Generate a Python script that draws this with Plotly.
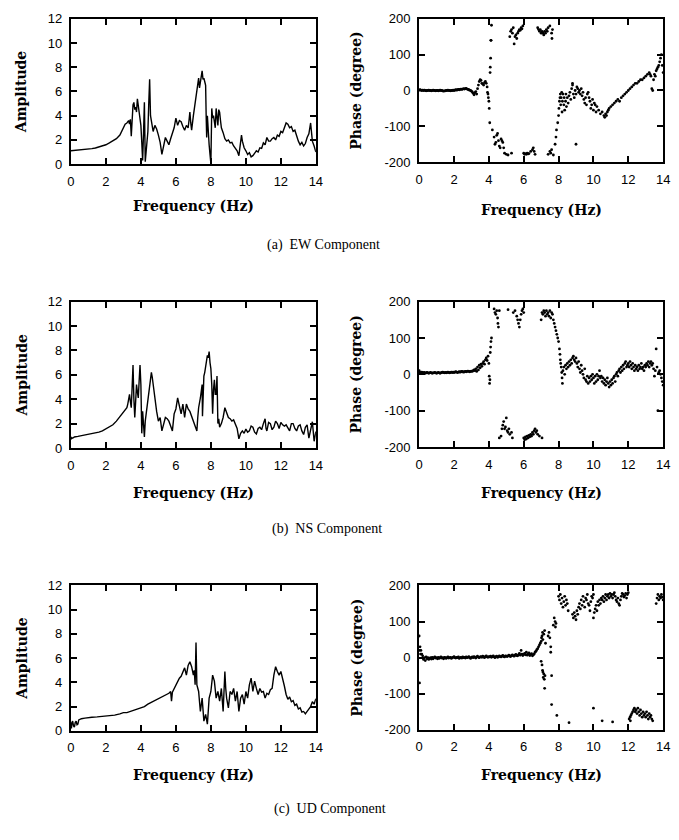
import plotly.graph_objects as go

# ---------------- DATA ----------------
freq_ticks = [0, 2, 4, 6, 8, 10, 12, 14]
amp_ticks = [0, 2, 4, 6, 8, 10, 12]
phase_ticks = [-200, -100, 0, 100, 200]

# (a) EW amplitude
ew_f = [0.0, 0.2, 0.4, 0.6, 0.8, 1.0, 1.2, 1.4, 1.6, 1.8, 2.0, 2.2, 2.4, 2.6, 2.8, 2.9, 3.0, 3.1, 3.2, 3.3,
        3.35, 3.4, 3.45, 3.5, 3.55, 3.6, 3.65, 3.7, 3.75, 3.8, 3.85, 3.9, 3.95, 4.0, 4.05, 4.1, 4.15, 4.2, 4.25, 4.3,
        4.35, 4.4, 4.45, 4.5, 4.55, 4.6, 4.65, 4.7, 4.8, 4.9, 5.0, 5.1, 5.2, 5.3, 5.4, 5.5, 5.6, 5.7, 5.8, 5.9,
        6.0, 6.05, 6.1, 6.2, 6.3, 6.4, 6.5, 6.6, 6.7, 6.75, 6.8, 6.85, 6.9, 7.0, 7.05, 7.1, 7.15, 7.2, 7.25, 7.3,
        7.35, 7.4, 7.45, 7.5, 7.55, 7.6, 7.65, 7.7, 7.73, 7.76, 7.8, 7.85, 7.9, 7.95, 8.0, 8.05, 8.1, 8.15, 8.2, 8.25,
        8.3, 8.35, 8.4, 8.45, 8.5, 8.55, 8.6, 8.7, 8.8, 8.9, 9.0, 9.1, 9.2, 9.3, 9.4, 9.5, 9.6, 9.7, 9.75, 9.8,
        9.9, 10.0, 10.1, 10.2, 10.3, 10.4, 10.5, 10.6, 10.7, 10.8, 10.9, 11.0, 11.1, 11.2, 11.3, 11.4, 11.5, 11.6, 11.7, 11.8,
        11.9, 12.0, 12.1, 12.2, 12.3, 12.4, 12.5, 12.6, 12.7, 12.8, 12.9, 13.0, 13.1, 13.2, 13.3, 13.4, 13.5, 13.6, 13.7, 13.75,
        13.8, 13.9, 14.0]
ew_amp = [1.10, 1.12, 1.15, 1.17, 1.20, 1.24, 1.28, 1.33, 1.40, 1.50, 1.60, 1.75, 1.90, 2.10, 2.40, 2.70, 2.90, 3.30, 3.40, 3.60,
          3.30, 3.70, 2.30, 4.40, 4.90, 5.10, 4.50, 4.70, 4.30, 5.40, 4.80, 4.00, 3.60, 3.20, 1.80, 0.30, 2.50, 5.10, 0.20, 1.00,
          2.00, 2.70, 5.00, 7.00, 4.00, 3.50, 2.80, 2.70, 3.20, 2.90, 2.40, 1.80, 0.80, 1.50, 2.20, 1.90, 1.60, 2.10, 2.60, 3.00,
          3.80, 3.30, 3.20, 3.60, 3.50, 3.10, 2.80, 3.20, 3.00, 3.60, 4.30, 3.40, 2.80, 4.00, 4.60, 5.10, 5.80, 6.20, 6.60, 7.10,
          6.30, 6.70, 7.20, 7.70, 7.00, 7.10, 6.80, 6.50, 4.00, 2.20, 4.00, 2.50, 1.60, 0.80, 0.05, 4.60, 3.80, 4.00, 3.50, 3.00,
          4.60, 3.80, 3.20, 4.50, 4.30, 3.60, 3.00, 2.60, 2.10, 1.90, 2.00, 1.75, 1.80, 1.50, 1.30, 1.10, 0.70, 1.60, 2.40, 1.90,
          1.35, 1.10, 0.80, 0.95, 0.60, 0.70, 0.90, 1.10, 1.00, 1.35, 1.30, 1.75, 1.60, 2.20, 1.90, 1.90, 2.10, 2.20, 2.00, 2.40,
          2.30, 2.70, 2.60, 3.00, 3.40, 3.30, 3.00, 3.10, 2.70, 2.80, 2.30, 1.90, 1.60, 1.80, 1.50, 1.70, 2.20, 2.50, 3.40, 2.40,
          1.90, 1.50, 1.00]

# (b) NS amplitude
ns_f = [0.0, 0.05, 0.1, 0.2, 0.4, 0.6, 0.8, 1.0, 1.2, 1.4, 1.6, 1.8, 2.0, 2.2, 2.4, 2.6, 2.8, 3.0, 3.1, 3.2,
        3.25, 3.3, 3.35, 3.4, 3.45, 3.5, 3.55, 3.6, 3.65, 3.7, 3.75, 3.8, 3.85, 3.9, 3.95, 4.0, 4.05, 4.1, 4.15, 4.2,
        4.25, 4.3, 4.4, 4.5, 4.55, 4.6, 4.65, 4.7, 4.8, 4.9, 5.0, 5.1, 5.2, 5.3, 5.4, 5.5, 5.6, 5.7, 5.8, 5.9,
        6.0, 6.1, 6.2, 6.3, 6.4, 6.5, 6.6, 6.7, 6.8, 6.9, 7.0, 7.1, 7.2, 7.25, 7.3, 7.4, 7.45, 7.5, 7.52, 7.55,
        7.6, 7.65, 7.7, 7.75, 7.8, 7.85, 7.9, 7.95, 8.0, 8.05, 8.1, 8.15, 8.2, 8.25, 8.3, 8.35, 8.4, 8.45, 8.5, 8.6,
        8.7, 8.8, 8.9, 9.0, 9.1, 9.2, 9.3, 9.4, 9.5, 9.6, 9.7, 9.8, 9.9, 10.0, 10.1, 10.2, 10.3, 10.4, 10.5, 10.6,
        10.7, 10.8, 10.9, 11.0, 11.1, 11.15, 11.2, 11.3, 11.4, 11.5, 11.6, 11.7, 11.8, 11.9, 12.0, 12.1, 12.2, 12.3, 12.4, 12.5,
        12.6, 12.7, 12.8, 12.9, 13.0, 13.1, 13.2, 13.3, 13.4, 13.5, 13.6, 13.7, 13.8, 13.9, 14.0]
ns_amp = [0.70, 0.85, 0.80, 0.90, 0.95, 1.00, 1.05, 1.10, 1.15, 1.22, 1.30, 1.40, 1.55, 1.70, 1.90, 2.20, 2.60, 2.90, 3.10, 3.30,
          3.60, 4.00, 4.40, 3.80, 3.30, 5.00, 6.80, 4.00, 2.50, 3.80, 5.20, 4.60, 4.10, 5.50, 6.80, 5.20, 1.20, 3.00, 2.00, 0.90,
          2.20, 2.80, 3.80, 5.20, 5.60, 6.20, 5.80, 5.20, 4.10, 3.00, 2.20, 2.50, 1.40, 2.00, 2.50, 2.40, 2.20, 1.80, 1.40, 2.80,
          3.20, 4.10, 3.30, 2.80, 3.60, 2.50, 3.60, 3.20, 3.00, 2.60, 2.20, 1.80, 1.40, 2.50, 3.30, 4.10, 4.60, 5.20, 2.60, 4.00,
          5.90, 6.20, 6.80, 7.20, 7.60, 7.40, 7.90, 7.00, 6.50, 5.20, 2.80, 4.80, 5.60, 4.40, 4.40, 5.90, 2.00, 2.40, 1.70, 2.00,
          2.50, 3.30, 2.80, 2.50, 2.40, 2.20, 2.30, 2.00, 1.60, 0.75, 1.20, 1.40, 1.20, 1.55, 1.30, 1.40, 1.80, 1.70, 1.30, 1.15,
          1.60, 1.70, 1.50, 2.00, 2.40, 1.60, 1.40, 2.10, 2.00, 1.50, 1.70, 2.20, 2.00, 1.60, 2.10, 1.90, 1.80, 1.90, 1.70, 1.40,
          2.00, 2.00, 1.60, 1.40, 1.80, 1.90, 1.40, 1.10, 1.70, 1.90, 0.80, 1.60, 2.15, 0.55, 1.35]

# (c) UD amplitude
ud_f = [0.0, 0.03, 0.06, 0.1, 0.15, 0.2, 0.25, 0.3, 0.35, 0.4, 0.45, 0.5, 0.6, 0.8, 1.0, 1.2, 1.5, 1.8, 2.0, 2.2,
        2.5, 2.8, 3.0, 3.2, 3.4, 3.6, 3.8, 4.0, 4.2, 4.4, 4.6, 4.8, 5.0, 5.2, 5.4, 5.5, 5.6, 5.7, 5.75, 5.8,
        5.9, 6.0, 6.1, 6.2, 6.3, 6.4, 6.5, 6.6, 6.7, 6.8, 6.9, 7.0, 7.05, 7.1, 7.15, 7.2, 7.3, 7.35, 7.4, 7.5,
        7.55, 7.6, 7.7, 7.8, 7.9, 8.0, 8.1, 8.2, 8.3, 8.4, 8.5, 8.6, 8.7, 8.8, 8.85, 8.9, 9.0, 9.1, 9.2, 9.3,
        9.4, 9.5, 9.6, 9.7, 9.8, 9.9, 10.0, 10.1, 10.2, 10.3, 10.4, 10.5, 10.6, 10.7, 10.8, 10.9, 11.0, 11.1, 11.2, 11.3,
        11.4, 11.5, 11.6, 11.7, 11.8, 11.9, 12.0, 12.1, 12.2, 12.3, 12.4, 12.5, 12.6, 12.7, 12.8, 12.9, 13.0, 13.1, 13.2, 13.3,
        13.4, 13.5, 13.6, 13.7, 13.8, 13.9, 14.0]
ud_amp = [0.70, 0.20, 0.70, 0.80, 0.40, 0.30, 0.70, 0.80, 0.50, 0.55, 0.90, 0.95, 1.00, 1.05, 1.10, 1.12, 1.15, 1.18, 1.20, 1.25,
          1.30, 1.40, 1.50, 1.50, 1.60, 1.70, 1.85, 1.90, 2.00, 2.20, 2.35, 2.50, 2.60, 2.75, 2.90, 3.00, 3.10, 3.25, 2.45, 3.20,
          3.50, 3.80, 4.10, 4.35, 4.50, 4.90, 5.20, 4.60, 5.40, 5.70, 5.30, 4.60, 5.00, 3.80, 7.30, 3.80, 3.25, 2.40, 1.60, 2.70,
          1.50, 0.80, 1.35, 0.55, 2.70, 3.25, 4.60, 4.10, 2.70, 3.25, 2.45, 3.50, 1.60, 4.90, 3.50, 2.70, 1.90, 3.25, 3.00, 3.50,
          2.45, 3.25, 1.60, 2.70, 3.00, 2.20, 3.25, 2.70, 3.80, 4.35, 3.25, 4.10, 3.50, 3.00, 3.50, 3.20, 3.25, 2.70, 3.10, 3.00,
          3.40, 3.50, 4.60, 5.30, 4.90, 4.60, 4.90, 4.35, 3.70, 3.00, 2.60, 2.80, 2.40, 2.50, 2.10, 2.20, 1.80, 1.90, 1.55, 1.60,
          1.40, 1.60, 1.80, 2.00, 2.40, 2.20, 2.65]

# (a) EW phase
ew_pf = [0.00, 0.05, 0.10, 0.15, 0.20, 0.25, 0.30, 0.35, 0.40, 0.45, 0.50, 0.55, 0.60, 0.65, 0.70, 0.75, 0.80, 0.85, 0.90, 0.95,
         1.00, 1.05, 1.10, 1.15, 1.20, 1.25, 1.30, 1.35, 1.40, 1.45, 1.50, 1.55, 1.60, 1.65, 1.70, 1.75, 1.80, 1.85, 1.90, 1.95,
         2.00, 2.05, 2.10, 2.15, 2.20, 2.25, 2.30, 2.35, 2.40, 2.45, 2.50, 2.55, 2.60, 2.65, 2.70, 2.75, 2.80, 2.85, 2.90, 2.95,
         3.00, 3.05, 3.10, 3.15, 3.20, 3.25, 3.30, 3.35, 3.40, 3.45, 3.50, 3.55, 3.60, 3.65, 3.70, 3.75, 3.80, 3.85, 3.90, 3.92,
         3.95, 3.97, 4.00, 4.02, 4.05, 4.07, 4.08, 4.10, 4.12, 4.15, 4.20, 4.30, 4.35, 4.40, 4.45, 4.50, 4.55, 4.60, 4.65, 4.70,
         4.75, 4.80, 4.85, 4.90, 5.00, 5.10, 5.30, 5.20, 5.25, 5.30, 5.35, 5.40, 5.45, 5.50, 5.55, 5.60, 5.65, 5.70, 5.75, 5.80,
         5.85, 5.90, 5.95, 6.00, 6.05, 6.10, 6.15, 6.20, 6.25, 6.30, 6.40, 6.50, 6.55, 6.60, 6.65, 6.80, 6.85, 6.90, 6.95, 7.00,
         7.05, 7.10, 7.15, 7.20, 7.25, 7.30, 7.35, 7.40, 7.50, 7.60, 7.62, 7.65, 7.40, 7.50, 7.55, 7.60, 7.70, 7.80, 7.85, 7.88,
         7.95, 8.00, 8.02, 8.05, 8.08, 8.10, 8.12, 8.15, 8.18, 8.20, 8.22, 8.25, 8.30, 8.32, 8.35, 8.40, 8.42, 8.45, 8.50, 8.55,
         8.60, 8.65, 8.70, 8.75, 8.80, 8.85, 8.90, 8.95, 9.00, 9.05, 9.10, 9.15, 9.20, 9.25, 9.30, 9.35, 9.40, 9.45, 9.50, 9.55,
         9.60, 9.65, 9.70, 9.75, 9.80, 9.85, 9.90, 9.95, 10.00, 10.05, 10.10, 10.15, 10.20, 10.30, 10.40, 10.50, 10.60, 10.65, 10.70, 10.75,
         10.80, 10.85, 10.90, 11.00, 11.10, 11.20, 11.30, 11.40, 11.50, 11.60, 11.70, 11.80, 11.90, 12.00, 12.10, 12.20, 12.30, 12.40, 12.50, 12.60,
         12.70, 12.80, 12.90, 13.00, 13.10, 13.20, 13.25, 13.30, 13.35, 13.40, 13.45, 13.50, 13.55, 13.60, 13.65, 13.70, 13.75, 13.80, 13.85, 13.90,
         13.95, 14.00, 9.00, 8.80, 4.12]
ew_phase = [1, 2, 1, 0, 1, 0, 1, 0, -1, 0, 0, 1, 0, 0, -1, 0, 1, 0, 0, -1,
            0, 0, -1, 0, 1, 0, 0, -1, -2, -1, -1, 0, 0, 1, 0, 0, -1, 0, 0, 1,
            0, 1, 2, 1, 2, 3, 2, 3, 4, 3, 4, 5, 4, 5, 6, 4, 3, 2, 1, 0,
            -2, -4, -8, -12, -6, -3, -10, 5, 15, 25, 30, 28, 20, 18, 15, 22, 25, 20, 10, -5,
            -10, -20, -30, -50, -90, 50, 65, 90, 140, 182, -110, -130, -150, -145, -125, -120, -140, -155, -160, -135,
            -140, -145, -160, -175, -178, -180, -175, 150, 165, 170, 160, 175, 130, 150, 155, 145, 160, 165, 170, 168,
            175, 172, 180, -175, -178, -176, -178, -175, -177, -176, -170, -165, -160, -170, -178, 175, 170, 165, 170, 160,
            165, 160, 155, 165, 160, 170, 165, 175, 180, 160, 145, 170, -178, -170, -175, -165, -180, -150, -130, -110,
            -90, -70, -50, -30, -20, -10, -40, -20, -5, -60, -30, -10, -40, -20, -55, -30, -10, -45, -20, -35,
            -15, -5, -25, 5, 15, -10, -20, 0, -10, 10, 5, -5, 0, -10, 5, -15, -5, -25, -35, -20,
            -40, -10, -5, -20, -30, -50, -40, -25, -55, -35, -40, -60, -45, -55, -65, -60, -70, -75, -65, -70,
            -60, -55, -50, -45, -40, -35, -30, -25, -30, -20, -15, -10, -5, 0, 5, 10, 15, 20, 20, 25,
            30, 30, 35, 40, 45, 50, 45, 40, 5, 0, 30, 45, 40, 55, 60, 65, 70, 80, 90, 100,
            70, 50, -150, 20, 140]

# (b) NS phase
ns_pf = [0.00, 0.05, 0.10, 0.15, 0.20, 0.25, 0.30, 0.35, 0.40, 0.45, 0.50, 0.55, 0.60, 0.65, 0.70, 0.75, 0.80, 0.85, 0.90, 0.95,
         1.00, 1.05, 1.10, 1.15, 1.20, 1.25, 1.30, 1.35, 1.40, 1.45, 1.50, 1.55, 1.60, 1.65, 1.70, 1.75, 1.80, 1.85, 1.90, 1.95,
         2.00, 2.05, 2.10, 2.15, 2.20, 2.25, 2.30, 2.35, 2.40, 2.45, 2.50, 2.55, 2.60, 2.65, 2.70, 2.75, 2.80, 2.85, 2.90, 2.95,
         3.00, 3.05, 3.10, 3.15, 3.20, 3.25, 3.30, 3.35, 3.40, 3.45, 3.50, 3.55, 3.60, 3.65, 3.70, 3.75, 3.80, 3.85, 3.90, 3.95,
         4.00, 4.02, 4.04, 4.06, 4.08, 4.10, 4.12, 4.15, 4.30, 4.35, 4.40, 4.45, 4.50, 4.52, 4.55, 4.60, 4.60, 4.70, 4.75, 4.80,
         4.85, 4.90, 4.95, 5.00, 5.05, 5.10, 5.15, 5.20, 5.30, 5.35, 5.10, 5.40, 5.50, 5.60, 5.65, 5.70, 5.75, 5.80, 5.85, 5.90,
         5.95, 6.00, 6.00, 6.05, 6.10, 6.15, 6.20, 6.25, 6.30, 6.35, 6.40, 6.45, 6.50, 6.55, 6.60, 6.65, 6.70, 6.75, 6.80, 6.90,
         7.05, 7.00, 7.05, 7.10, 7.15, 7.20, 7.25, 7.30, 7.35, 7.40, 7.45, 7.50, 7.55, 7.60, 7.65, 7.70, 7.75, 7.80, 7.85, 7.90,
         7.95, 8.00, 8.05, 8.08, 8.10, 8.12, 8.15, 8.18, 8.20, 8.22, 8.25, 8.30, 8.35, 8.40, 8.45, 8.50, 8.55, 8.60, 8.65, 8.70,
         8.75, 8.80, 8.85, 8.90, 8.95, 9.00, 9.05, 9.10, 9.15, 9.20, 9.25, 9.30, 9.35, 9.40, 9.45, 9.50, 9.55, 9.60, 9.65, 9.70,
         9.75, 9.80, 9.85, 9.90, 9.95, 10.00, 10.05, 10.10, 10.15, 10.20, 10.25, 10.30, 10.35, 10.40, 10.45, 10.50, 10.55, 10.60, 10.65, 10.70,
         10.75, 10.80, 10.85, 10.90, 10.95, 11.00, 11.05, 11.10, 11.15, 11.20, 11.25, 11.30, 11.35, 11.40, 11.45, 11.50, 11.55, 11.60, 11.65, 11.70,
         11.75, 11.80, 11.85, 11.90, 11.95, 12.00, 12.05, 12.10, 12.15, 12.20, 12.25, 12.30, 12.35, 12.40, 12.45, 12.50, 12.55, 12.60, 12.65, 12.70,
         12.75, 12.80, 12.85, 12.90, 12.95, 13.00, 13.05, 13.10, 13.15, 13.20, 13.25, 13.30, 13.35, 13.40, 13.45, 13.50, 13.55, 13.60, 13.65, 13.70,
         13.75, 13.80, 13.85, 13.90, 13.95, 14.00]
ns_phase = [10, 5, 4, 6, 5, 4, 5, 3, 4, 5, 4, 3, 4, 5, 4, 3, 4, 4, 5, 4,
            3, 4, 5, 4, 3, 4, 5, 6, 5, 4, 5, 4, 5, 6, 5, 4, 5, 6, 5, 6,
            5, 6, 7, 6, 5, 6, 7, 6, 7, 8, 7, 6, 7, 8, 7, 8, 9, 8, 7, 8,
            9, 8, 10, 12, 10, 15, 8, 20, 12, 25, 18, 28, 22, 30, 35, 28, 40, 45, 38, 50,
            30, -5, -25, -15, 60, 75, 90, 100, 180, 170, 165, 175, 155, 140, 130, 175, -175, -170, -150, -140,
            -130, -150, -145, -120, -155, -160, -150, -165, -160, -175, 178, 170, 175, 160, 150, 140, 130, 150, 165, 175,
            180, 170, -175, -180, -172, -178, -170, -175, -168, -172, -165, -170, -160, -165, -155, -150, -160, -155, -165, -170,
            -175, 150, 170, 165, 175, 170, 160, 175, 165, 170, 160, 175, 155, 170, 165, 150, 140, 130, 120, 110,
            100, 90, 70, 55, 40, 30, 20, 5, -10, -25, 10, 20, 0, 25, 15, 30, 20, 35, 25, 40,
            30, 45, 50, 40, 35, 45, 30, 20, 35, 15, 5, 25, 10, 0, -10, 15, -15, -20, -5, -25,
            -10, -20, -5, -15, 0, -10, -25, -5, -20, 0, -15, -5, 10, -10, -5, -20, -10, -25, -15, -30,
            -20, -10, -25, -35, -20, -30, -15, -25, -10, -5, -20, 0, 5, -5, 10, 15, 5, 20, 10, 25,
            15, 30, 35, 20, 25, 30, 20, 35, 25, 15, 30, 20, 10, 25, 15, 20, 10, 25, 15, 20,
            30, 15, 20, 10, 25, 20, 30, 25, 35, 20, 30, 35, 25, 30, 15, -5, 10, 70, 20, -100,
            5, 10, 0, -10, -20, -30]

# (c) UD phase
ud_pf = [0.00, 0.00, 0.02, 0.05, 0.08,
         0.10, 0.15, 0.20, 0.25, 0.30, 0.35, 0.40, 0.45, 0.50, 0.55, 0.60, 0.65, 0.70, 0.75, 0.80, 0.85, 0.90, 0.95, 1.00, 1.05,
         1.10, 1.15, 1.20, 1.25, 1.30, 1.35, 1.40, 1.45, 1.50, 1.55, 1.60, 1.65, 1.70, 1.75, 1.80, 1.85, 1.90, 1.95, 2.00, 2.05,
         2.10, 2.15, 2.20, 2.25, 2.30, 2.35, 2.40, 2.45, 2.50, 2.55, 2.60, 2.65, 2.70, 2.75, 2.80, 2.85, 2.90, 2.95, 3.00, 3.05,
         3.10, 3.15, 3.20, 3.25, 3.30, 3.35, 3.40, 3.45, 3.50, 3.55, 3.60, 3.65, 3.70, 3.75, 3.80, 3.85, 3.90, 3.95, 4.00, 4.05,
         4.10, 4.15, 4.20, 4.25, 4.30, 4.35, 4.40, 4.45, 4.50, 4.55, 4.60, 4.65, 4.70, 4.75, 4.80, 4.85, 4.90, 4.95, 5.00, 5.05,
         5.10, 5.15, 5.20, 5.25, 5.30, 5.35, 5.40, 5.45, 5.50, 5.55, 5.60, 5.65, 5.70, 5.75, 5.80, 5.85, 5.90, 5.95, 6.00, 6.05,
         6.10, 6.15, 6.20, 6.25, 6.30, 6.35, 6.40, 6.45, 6.50, 6.55,
         6.60, 6.65, 6.70, 6.75, 6.80, 6.85, 6.90, 6.95, 7.00, 7.02, 7.05, 7.08, 7.10, 7.15, 7.20, 7.25,
         7.00, 7.05, 7.08, 7.10, 7.12, 7.15, 7.18, 7.20, 7.22,
         7.40, 7.45, 7.50, 7.55, 7.60, 7.60, 7.55,
         7.70, 7.75, 7.80, 7.82, 7.85, 7.90,
         8.00, 8.05, 8.10, 8.15, 8.20, 8.25, 8.30, 8.35, 8.40, 8.45, 8.50, 8.55, 8.60, 8.80, 8.85, 8.90, 8.95, 9.00, 9.05, 9.10,
         9.15, 9.20, 9.25, 9.30, 9.35, 9.40, 9.45, 9.50, 9.55, 9.60, 9.65, 9.70, 9.75, 9.80, 9.85, 9.90, 9.95, 10.00, 10.00, 10.00,
         10.05, 10.10, 10.15, 10.20, 10.25, 10.30, 10.35, 10.40, 10.45, 10.50, 10.50, 10.55, 10.60, 10.65, 10.70, 10.75, 10.80, 10.85, 10.90, 10.95,
         11.00, 11.05, 11.10, 11.10, 11.15, 11.20, 11.25, 11.30, 11.35, 11.40, 11.45, 11.50, 11.55, 11.60, 11.65, 11.70, 11.75, 11.80, 11.85, 11.90,
         11.95, 12.00,
         12.05, 12.10, 12.12, 12.15, 12.20, 12.25, 12.30, 12.35, 12.40, 12.45, 12.50, 12.55, 12.60, 12.65, 12.70, 12.75, 12.80, 12.85, 12.90, 12.95,
         13.00, 13.05, 13.10, 13.15, 13.20, 13.25, 13.30, 13.35, 13.40,
         13.60, 13.65, 13.70, 13.75, 13.80, 13.85, 13.90, 13.95, 14.00]
ud_phase = [60, 20, -70, 30, 10,
            20, 10, 5, -5, 0, -8, 2, -3, 0, -5, -2, 0, -4, 1, -3, 0, 2, -1, 0, -3,
            1, -2, 0, 2, -1, 0, -3, 1, 0, -2, 0, 2, -1, 0, 1, -2, 0, 1, 3, 0,
            -1, 1, 0, 2, -2, 0, 1, -1, 2, 0, 1, -1, 2, 0, 1, 3, 0, -2, 1, 2,
            0, 3, 1, -1, 2, 4, 1, 0, 2, 3, 1, 4, 2, 0, 3, 5, 2, 1, 3, 2,
            4, 1, 3, 5, 2, 0, 3, 4, 1, 2, 5, 3, 2, 4, 6, 3, 2, 5, 4, 3,
            5, 7, 4, 3, 6, 8, 5, 4, 7, 9, 6, 5, 8, 12, 7, 20, 10, 6, 9, 12,
            8, 15, 7, 10, 13, 6, 9, 11, 5, 8,
            10, 15, 18, 22, 25, 30, 35, 40, 45, 55, 60, 70, 50, 65, 75, 40,
            -10, -20, -35, -40, -55, -45, -60, -85, -50,
            60, 70, 55, 30, -130, -50, 15,
            90, 110, 100, 85, 95, -160,
            170, 160, 175, 150, 165, 140, 155, 170, 145, 160, 150, 130, -180, 120, 110, 125, 115, 105, 130, 120,
            140, 150, 135, 160, 145, 170, 155, 140, 165, 160, 175, 150, 145, 130, 155, 170, 165, 175, 110, -140,
            125, 135, 145, 130, 155, 145, 160, 150, 165, -175, 160, 170, 155, 165, 175, 160, 170, 175, 165, 178,
            170, 175, -178, 165, 175, 180, 170, 160, 155, 165, 150, 145, 160, 170, 178, 175, 168, 172, 178, 165,
            175, 180,
            -170, -165, -175, -160, -155, -150, -145, -140, -150, -145, -155, -140, -150, -160, -145, -155, -165, -150, -160, -155,
            -165, -150, -160, -170, -155, -165, -160, -170, -175,
            150, 165, 175, 160, 170, 165, 175, 168, 160]

captions = ["(a)  EW Component", "(b)  NS Component", "(c)  UD Component"]
x_title = "Frequency (Hz)"
amp_title = "Amplitude"
phase_title = "Phase (degree)"

# ---------------- LAYOUT (pixel geometry) ----------------
W, H = 679, 840
LEFT_X = (68, 317)
RIGHT_X = (422, 670)
ROWS_LEFT = [(12, 160), (300, 449), (589, 737)]
ROWS_RIGHT = [(12, 158), (300, 448), (589, 736)]
XTITLE_Y_LEFT = [203, 495, 782]
XTITLE_Y_RIGHT = [207, 495, 782]
CAPTION_Y = [242, 531, 817]
CAPTION_X = [325, 328, 331]

SERIF = "DejaVu Serif"
SANS = "Liberation Sans"


def xd(a, b):
    return [a / W, b / W]


def yd(top, bot):
    return [1 - bot / H, 1 - top / H]


fig = go.Figure()

amp_series = [(ew_f, ew_amp), (ns_f, ns_amp), (ud_f, ud_amp)]
phase_series = [(ew_pf, ew_phase), (ns_pf, ns_phase), (ud_pf, ud_phase)]

axis_common = dict(showline=True, linecolor="black", linewidth=2, mirror="ticks",
                   ticks="inside", ticklen=6, tickwidth=1.5, tickcolor="black",
                   showgrid=False, zeroline=False,
                   tickfont=dict(family=SANS, size=13, color="black"))

annotations = []
for i in range(3):
    ax_l = 2 * i + 1
    ax_r = 2 * i + 2
    nl = "" if ax_l == 1 else str(ax_l)
    nr = str(ax_r)
    f, a = amp_series[i]
    fig.add_trace(go.Scatter(x=f, y=a, mode="lines", line=dict(color="black", width=1.4),
                             xaxis="x" + nl, yaxis="y" + nl, showlegend=False))
    pf, pp = phase_series[i]
    fig.add_trace(go.Scatter(x=pf, y=pp, mode="markers", marker=dict(color="black", size=2.8),
                             xaxis="x" + nr, yaxis="y" + nr, showlegend=False, cliponaxis=False))

    fig.layout["xaxis" + nl] = dict(domain=xd(*LEFT_X), anchor="y" + nl, range=[0, 14],
                                    tickvals=freq_ticks, ticktext=[str(v) for v in freq_ticks],
                                    ticklabelstandoff=4, **axis_common)
    fig.layout["yaxis" + nl] = dict(domain=yd(*ROWS_LEFT[i]), anchor="x" + nl, range=[0, 12],
                                    tickvals=amp_ticks, ticktext=[str(v) for v in amp_ticks],
                                    ticklabelstandoff=4, **axis_common)
    fig.layout["xaxis" + nr] = dict(domain=xd(*RIGHT_X), anchor="y" + nr, range=[0, 14],
                                    tickvals=freq_ticks, ticktext=[str(v) for v in freq_ticks],
                                    ticklabelstandoff=4, **axis_common)
    fig.layout["yaxis" + nr] = dict(domain=yd(*ROWS_RIGHT[i]), anchor="x" + nr, range=[-200, 200],
                                    tickvals=phase_ticks, ticktext=[str(v) for v in phase_ticks],
                                    ticklabelstandoff=4, **axis_common)

    tfont = dict(family=SERIF, size=14, color="black")
    annotations.append(dict(text="<b>%s</b>" % amp_title, x=18 / W, y=1 - (sum(ROWS_LEFT[i]) / 2) / H,
                            xref="paper", yref="paper", showarrow=False, textangle=-90,
                            xanchor="center", yanchor="middle", font=tfont))
    annotations.append(dict(text="<b>%s</b>" % phase_title, x=358 / W, y=1 - (sum(ROWS_RIGHT[i]) / 2) / H,
                            xref="paper", yref="paper", showarrow=False, textangle=-90,
                            xanchor="center", yanchor="middle", font=tfont))
    annotations.append(dict(text="<b>%s</b>" % x_title, x=(sum(LEFT_X) / 2) / W, y=1 - XTITLE_Y_LEFT[i] / H,
                            xref="paper", yref="paper", showarrow=False,
                            xanchor="center", yanchor="middle", font=tfont))
    annotations.append(dict(text="<b>%s</b>" % x_title, x=(sum(RIGHT_X) / 2) / W, y=1 - XTITLE_Y_RIGHT[i] / H,
                            xref="paper", yref="paper", showarrow=False,
                            xanchor="center", yanchor="middle", font=tfont))
    annotations.append(dict(text=captions[i], x=CAPTION_X[i] / W, y=1 - CAPTION_Y[i] / H,
                            xref="paper", yref="paper", showarrow=False,
                            xanchor="center", yanchor="middle",
                            font=dict(family="Liberation Serif", size=14, color="black")))

fig.update_layout(width=W, height=H, autosize=False,
                  margin=dict(l=0, r=0, t=0, b=0, pad=0),
                  paper_bgcolor="white", plot_bgcolor="white",
                  annotations=annotations, showlegend=False)

fig.write_html("out.html")
